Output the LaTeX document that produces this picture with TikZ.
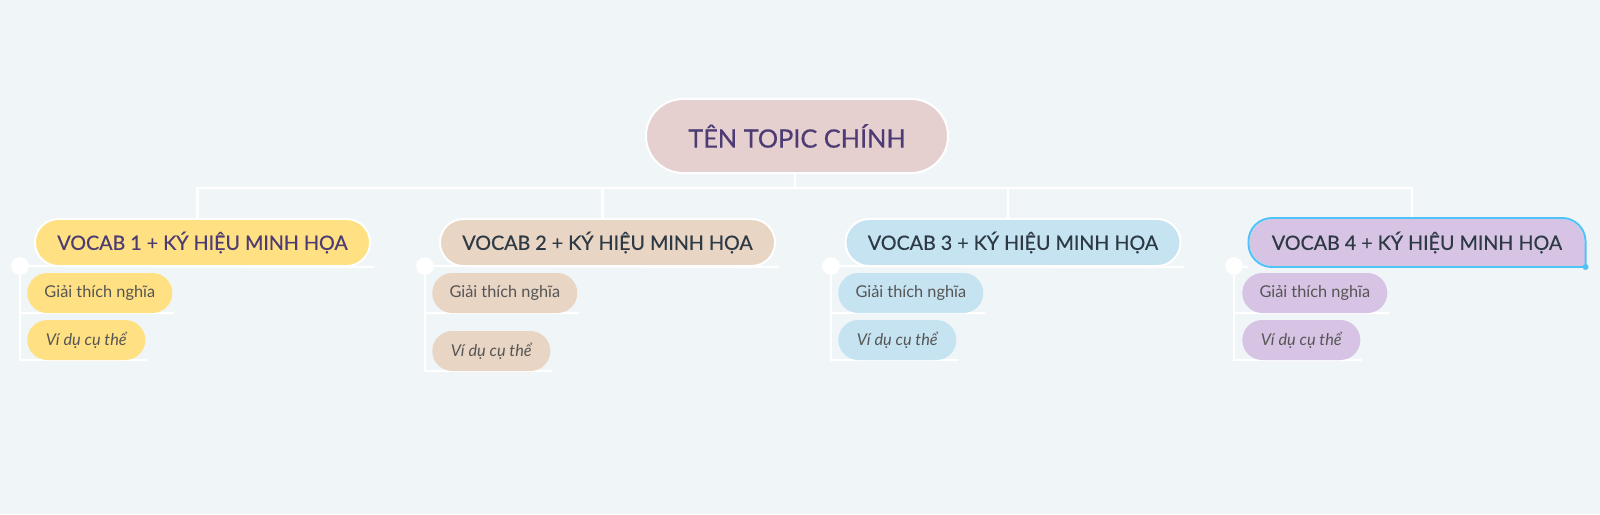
\documentclass[tikz,border=0pt]{standalone}
\usepackage{fontspec}
\setmainfont{Lato}
\newfontfamily\headfont[FakeBold=0.5]{Lato}
\usetikzlibrary{positioning, backgrounds}
\definecolor{canvasbg}{RGB}{240,245,248}
\definecolor{rootpink}{RGB}{230,207,207}
\definecolor{rootink}{RGB}{76,60,115}
\definecolor{vocabyellow}{RGB}{255,224,130}
\definecolor{vocabsand}{RGB}{232,213,195}
\definecolor{vocabsky}{RGB}{198,227,241}
\definecolor{vocablilac}{RGB}{215,196,229}
\definecolor{darkink}{RGB}{45,58,69}
\definecolor{greyink}{RGB}{85,85,85}
\definecolor{selblue}{RGB}{79,195,247}

\tikzset{
  wire/.style={draw=white, line width=1.6pt},
  rootbox/.style={draw=white, line width=1.4pt, fill=rootpink, rounded corners=0.925cm, minimum width=7.55cm, minimum height=1.85cm, text=rootink, font=\headfont\fontsize{18}{20}\selectfont},
  vocabbox/.style={draw=white, line width=1.4pt, rounded corners=0.5875cm, minimum width=8.375cm, minimum height=1.175cm, text=darkink, font=\headfont\fontsize{14}{16}\selectfont},
  notebox/.style={rounded corners=0.5cm, minimum height=1cm, anchor=west, text=greyink, font=\fontsize{11.6}{13}\selectfont},
  knob/.style={circle, fill=white, inner sep=0pt, minimum size=0.44cm},
}

\begin{document}
\begin{tikzpicture}[x=0.025cm, y=-0.025cm]
  \useasboundingbox (0,0) rectangle (1600,514);

  % Main topic
  \node[rootbox] (root) at (797,136) {TÊN TOPIC CHÍNH};

  % Vocab branches
  \node[vocabbox, fill=vocabyellow, text=rootink] (v1) at (202.5,242.5) {VOCAB 1 + KÝ HIỆU MINH HỌA};
  \node[vocabbox, fill=vocabsand] (v2) at (607.5,242.5) {VOCAB 2 + KÝ HIỆU MINH HỌA};
  \node[vocabbox, fill=vocabsky] (v3) at (1013,242.5) {VOCAB 3 + KÝ HIỆU MINH HỌA};
  \node[vocabbox, fill=vocablilac, draw=none] (v4) at (1417,242.5) {VOCAB 4 + KÝ HIỆU MINH HỌA};

  % Selected branch: square corner + handle
  \fill[vocablilac] ([shift={(-0.6cm,0cm)}]v4.south east) rectangle ([shift={(0cm,0.6cm)}]v4.south east);
  \draw[selblue, line width=1.4pt, rounded corners=0.5875cm] (v4.south east) -- (v4.north east) -- (v4.north west) -- (v4.south west) -- (v4.south east);
  \fill[selblue] (v4.south east) circle (0.075cm);

  % Knobs
  \node[knob] (k1) at (20,266) {};
  \node[knob] (k2) at (425,266) {};
  \node[knob] (k3) at (831,266) {};
  \node[knob] (k4) at (1234,266) {};

  % Notes
  \node[notebox, fill=vocabyellow, minimum width=3.625cm] (n1a) at (27,293) {Giải thích nghĩa};
  \node[notebox, fill=vocabyellow, minimum width=2.95cm] (n1b) at (27,340) {\itshape Ví dụ cụ thể};
  \node[notebox, fill=vocabsand, minimum width=3.625cm] (n2a) at (432,293) {Giải thích nghĩa};
  \node[notebox, fill=vocabsand, minimum width=2.95cm] (n2b) at (432,351) {\itshape Ví dụ cụ thể};
  \node[notebox, fill=vocabsky, minimum width=3.625cm] (n3a) at (838,293) {Giải thích nghĩa};
  \node[notebox, fill=vocabsky, minimum width=2.95cm] (n3b) at (838,340) {\itshape Ví dụ cụ thể};
  \node[notebox, fill=vocablilac, minimum width=3.625cm] (n4a) at (1242,293) {Giải thích nghĩa};
  \node[notebox, fill=vocablilac, minimum width=2.95cm] (n4b) at (1242,340) {\itshape Ví dụ cụ thể};

  \begin{scope}[on background layer]
    \fill[canvasbg] (0,0) rectangle (1600,514);
    % Topic to branches
    \draw[wire] ([xshift=-0.05cm]root.south) -- ++(0,14) -| ([xshift=-0.125cm]v1.north);
    \draw[wire] ([xshift=-0.05cm]root.south) -- ++(0,14) -| ([xshift=-0.125cm]v2.north);
    \draw[wire] ([xshift=-0.05cm]root.south) -- ++(0,14) -| ([xshift=-0.125cm]v3.north);
    \draw[wire] ([xshift=-0.05cm]root.south) -- ++(0,14) -| ([xshift=-0.125cm]v4.north);
    % Branch underlines and note rails
    \draw[wire] (k1.center) -- ([xshift=0.075cm]v1.south east);
    \draw[wire] (k1.center) |- ([xshift=0.025cm]n1b.south east);
    \draw[wire] (k1.center |- n1a.south) -- ([xshift=0.025cm]n1a.south east);
    \draw[wire] (k2.center) -- ([xshift=0.075cm]v2.south east);
    \draw[wire] (k2.center) |- ([xshift=0.025cm]n2b.south east);
    \draw[wire] (k2.center |- n2a.south) -- ([xshift=0.025cm]n2a.south east);
    \draw[wire] (k3.center) -- ([xshift=0.075cm]v3.south east);
    \draw[wire] (k3.center) |- ([xshift=0.025cm]n3b.south east);
    \draw[wire] (k3.center |- n3a.south) -- ([xshift=0.025cm]n3a.south east);
    \draw[wire] (k4.center) -- (v4.south west);
    \draw[wire] (k4.center) |- ([xshift=0.025cm]n4b.south east);
    \draw[wire] (k4.center |- n4a.south) -- ([xshift=0.025cm]n4a.south east);
  \end{scope}
\end{tikzpicture}
\end{document}
